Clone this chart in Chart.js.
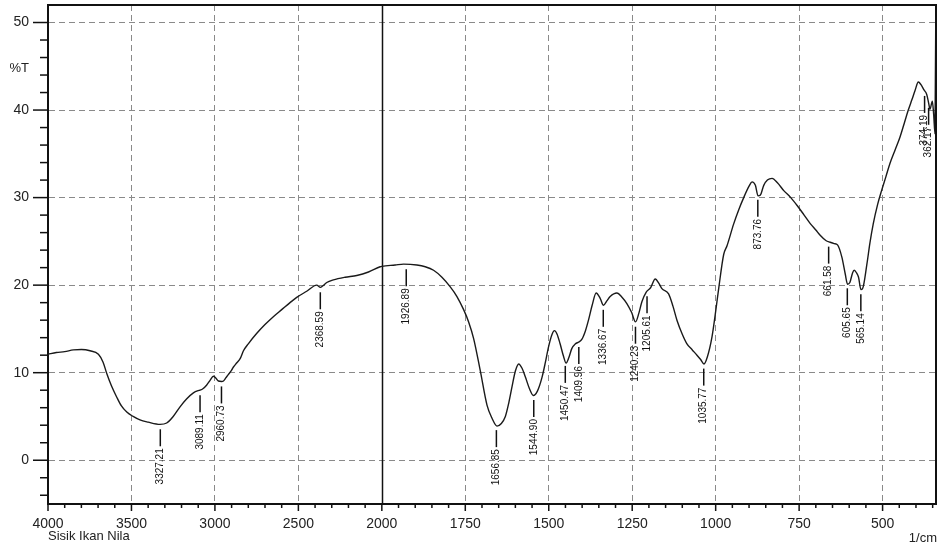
<!DOCTYPE html>
<html><head><meta charset="utf-8">
<script src="https://cdn.jsdelivr.net/npm/chart.js@4.4.1/dist/chart.umd.min.js"></script>
<style>html,body{margin:0;padding:0;background:#fff;}canvas{display:block;}</style>
</head><body>
<canvas id="c" width="939" height="549"></canvas>
<script>
// ---- data ----
const wavenumbers = [4000,3950,3900,3848,3800,3748,3698,3670,3648,3620,3588,3560,3528,3490,3449,3400,3329,3289,3250,3209,3170,3129,3100,3089,3070,3049,3030,3009,2995,2979,2960,2949,2935,2919,2900,2889,2870,2849,2829,2800,2749,2700,2650,2600,2550,2510,2450,2390,2368,2355,2330,2290,2220,2150,2080,2010,2000,1960,1935,1895,1870,1845,1820,1795,1775,1755,1740,1725,1705,1685,1670,1655,1642,1630,1620,1610,1600,1590,1580,1570,1558,1546,1534,1520,1510,1501,1490,1483,1475,1466,1456,1448,1440,1431,1420,1410,1401,1390,1381,1370,1358,1346,1336,1326,1316,1296,1280,1266,1252,1240,1230,1221,1208,1195,1181,1170,1161,1141,1128,1116,1100,1086,1070,1056,1045,1035,1025,1011,1000,991,976,966,946,930,916,900,891,881,873,866,856,845,831,815,796,775,756,735,716,700,687,670,657,645,635,622,612,605,598,590,585,578,572,565,560,547,538,528,515,503,490,478,462,448,435,423,412,403,393,385,376,368,362,358,351,347,343,340];
const transmittance = [12.1,12.3,12.4,12.6,12.64,12.5,12.1,11.2,9.9,8.5,7.2,6.2,5.5,5.0,4.6,4.35,4.1,4.25,5.0,6.1,7.0,7.7,7.95,8.0,8.2,8.6,9.1,9.6,9.4,9.05,9.0,9.05,9.4,9.8,10.3,10.65,11.1,11.6,12.5,13.3,14.5,15.5,16.4,17.2,18.0,18.6,19.3,20.0,19.75,19.9,20.3,20.6,20.9,21.1,21.5,22.1,22.15,22.3,22.4,22.3,22.1,21.7,20.9,19.8,18.7,17.2,15.8,13.9,10.2,6.3,4.8,3.9,4.2,5.0,6.5,8.4,10.2,11.0,10.5,9.5,8.2,7.4,7.9,9.5,11.2,12.9,14.4,14.8,14.4,13.3,11.9,11.1,11.7,12.75,13.3,13.5,13.8,14.8,16.0,17.7,19.1,18.5,17.7,18.2,18.7,19.1,18.6,17.9,16.9,15.8,16.8,18.1,19.2,19.7,20.7,20.2,19.6,19.0,17.6,16.0,14.4,13.3,12.6,12.0,11.5,11.0,11.8,14.1,17.0,19.6,23.5,24.5,27.0,28.7,30.0,31.3,31.8,31.4,30.2,30.3,31.4,32.0,32.2,31.7,30.8,30.0,29.1,28.0,27.0,26.3,25.7,25.1,24.9,24.75,24.6,23.2,21.3,20.1,20.3,21.4,21.7,21.4,20.9,19.5,19.6,22.4,24.8,27.0,29.2,30.8,32.4,33.9,35.5,36.9,38.5,40.0,41.2,42.2,43.2,42.9,42.3,41.8,40.8,40.1,41.0,39.5,37.3,56];
const xTickLabels = [4000,3500,3000,2500,2000,1750,1500,1250,1000,750,500];
const yTickLabels = [0,10,20,30,40,50];
const peakWavenumbers = [3327.21,3089.11,2960.73,2368.59,1926.89,1656.85,1544.90,1450.47,1409.96,1336.67,1240.23,1205.61,1035.77,873.76,661.58,605.65,565.14,374.19,362.17];
const peakLabels = ["3327.21","3089.11","2960.73","2368.59","1926.89","1656.85","1544.90","1450.47","1409.96","1336.67","1240.23","1205.61","1035.77","873.76","661.58","605.65","565.14","374.19","362.17"];

// ---- piecewise wavenumber axis (4000-2000 drawn at half the scale of 2000-340) ----
function toU(w){ return w >= 2000 ? 4000 - w : 2000 + (2000 - w) * 2; }
function fromU(u){ return u <= 2000 ? 4000 - u : 2000 - (u - 2000) / 2; }
const majorU = new Set(xTickLabels.map(toU));
const majorY = new Set(yTickLabels);
const points = wavenumbers.map((w, i) => ({x: toU(w), y: transmittance[i]}));
function valueAt(w){
  for (let i = 0; i < wavenumbers.length - 1; i++) {
    const a = wavenumbers[i], b = wavenumbers[i+1];
    if (w <= a && w >= b) {
      const t = (a - w) / (a - b);
      return transmittance[i] + t * (transmittance[i+1] - transmittance[i]);
    }
  }
  return transmittance[transmittance.length - 1];
}

const FONT = "'Liberation Sans', Arial, sans-serif";
Chart.defaults.font.family = FONT;

function zeroPad(s){ s.paddingTop = 0; s.paddingBottom = 0; s.paddingLeft = 0; s.paddingRight = 0; }

const decor = {
  id: 'decor',
  beforeDatasetsDraw(chart){
    const {ctx, chartArea: a, scales: {x}} = chart;
    ctx.save();
    const px = Math.round(x.getPixelForValue(toU(2000))) + 0.5;
    ctx.strokeStyle = '#111'; ctx.lineWidth = 1.5; ctx.setLineDash([]);
    ctx.beginPath(); ctx.moveTo(px, a.top); ctx.lineTo(px, a.bottom); ctx.stroke();
    ctx.restore();
  },
  afterDatasetsDraw(chart){
    const {ctx, chartArea: a, scales: {x, y}} = chart;
    ctx.save();
    ctx.strokeStyle = '#111'; ctx.lineWidth = 2; ctx.setLineDash([]);
    ctx.beginPath();
    ctx.moveTo(a.left, a.top); ctx.lineTo(a.right, a.top); ctx.lineTo(a.right, a.bottom);
    ctx.stroke();
    ctx.lineWidth = 1.5;
    x.ticks.forEach(t => {
      const p = x.getPixelForValue(t.value);
      const len = majorU.has(t.value) ? 7 : 4;
      ctx.beginPath(); ctx.moveTo(p, a.bottom); ctx.lineTo(p, a.bottom + len); ctx.stroke();
    });
    y.ticks.forEach(t => {
      const p = y.getPixelForValue(t.value);
      const len = majorY.has(t.value) ? 15 : 8;
      ctx.beginPath(); ctx.moveTo(a.left, p); ctx.lineTo(a.left - len, p); ctx.stroke();
    });
    ctx.fillStyle = '#222';
    ctx.font = '13px ' + FONT;
    ctx.textBaseline = 'middle';
    ctx.textAlign = 'right';
    ctx.fillText('%T', 29, y.getPixelForValue(44.7));
    ctx.textAlign = 'left';
    ctx.fillText('Sisik Ikan Nila', a.left, 536);
    ctx.textAlign = 'right';
    ctx.fillText('1/cm', a.right + 1, 538);
    ctx.beginPath(); ctx.rect(a.left, a.top, a.right - a.left, a.bottom - a.top); ctx.clip();
    ctx.lineWidth = 1.5; ctx.strokeStyle = '#111'; ctx.fillStyle = '#111';
    ctx.font = '10px ' + FONT;
    peakWavenumbers.forEach((w, i) => {
      const px = x.getPixelForValue(toU(w));
      const py = y.getPixelForValue(valueAt(w));
      const y0 = py + 5, y1 = y0 + 17;
      ctx.beginPath(); ctx.moveTo(px, y0); ctx.lineTo(px, y1); ctx.stroke();
      ctx.save();
      ctx.translate(px, y1 + 2);
      ctx.rotate(-Math.PI / 2);
      ctx.textAlign = 'right'; ctx.textBaseline = 'middle';
      ctx.fillText(peakLabels[i], 0, 0);
      ctx.restore();
    });
    ctx.restore();
  }
};

new Chart(document.getElementById('c'), {
  type: 'line',
  data: { datasets: [{
    data: points,
    borderColor: '#1a1a1a', borderWidth: 1.4,
    pointRadius: 0, fill: false,
    cubicInterpolationMode: 'monotone'
  }]},
  options: {
    responsive: false, animation: false, devicePixelRatio: 1,
    layout: { padding: { top: 5, right: 3, left: 0, bottom: 0 } },
    plugins: { legend: { display: false }, tooltip: { enabled: false } },
    scales: {
      x: {
        type: 'linear', min: 0, max: toU(340),
        afterBuildTicks(s){ const t = []; for (let u = 0; u <= 5300; u += 100) t.push({value: u}); s.ticks = t; },
        afterFit(s){ s.height = 45; zeroPad(s); },
        ticks: {
          autoSkip: false, maxRotation: 0, minRotation: 0, padding: 12, color: '#222',
          font: { size: 14 },
          callback: v => majorU.has(v) ? String(fromU(v)) : ''
        },
        grid: {
          drawTicks: false, lineWidth: 1,
          color: c => (c.tick && majorU.has(c.tick.value) && c.tick.value !== 0 && c.tick.value !== 2000) ? '#8a8a8a' : 'rgba(0,0,0,0)'
        },
        border: { display: true, color: '#111', width: 2, dash: [6, 4] }
      },
      y: {
        min: -5, max: 52,
        afterBuildTicks(s){ const t = []; for (let v = -4; v <= 50; v += 2) t.push({value: v}); s.ticks = t; },
        afterFit(s){ s.width = 48; zeroPad(s); },
        ticks: {
          autoSkip: false, padding: 19, color: '#222', font: { size: 14 },
          callback: v => majorY.has(v) ? String(v) : ''
        },
        grid: {
          drawTicks: false, lineWidth: 1,
          color: c => (c.tick && majorY.has(c.tick.value)) ? '#8a8a8a' : 'rgba(0,0,0,0)'
        },
        border: { display: true, color: '#111', width: 2, dash: [6, 4] }
      }
    }
  },
  plugins: [decor]
});
</script>
</body></html>
